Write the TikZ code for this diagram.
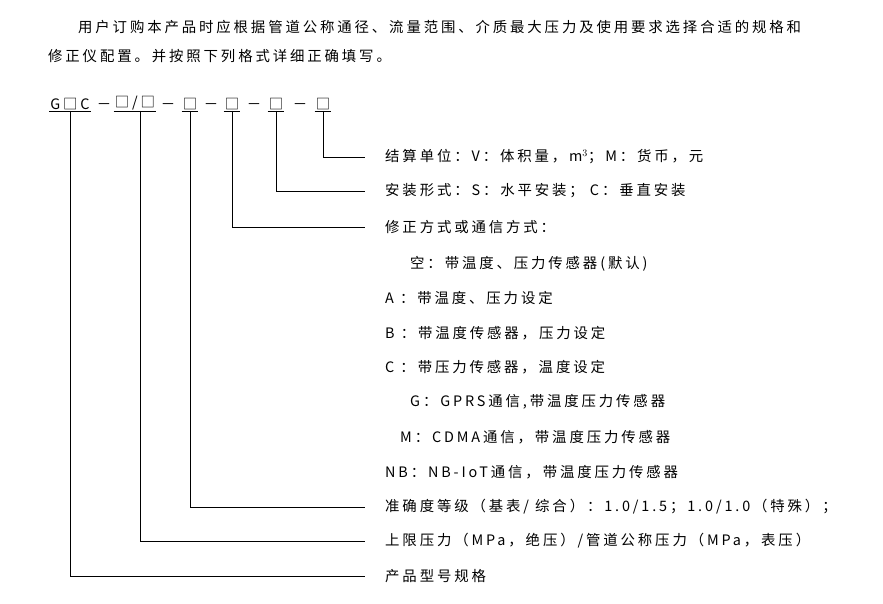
\documentclass[tikz,border=0pt]{standalone}
\usepackage{fontspec}
\setmainfont{Liberation Serif}
\newfontfamily\cjk[LetterSpace=20]{Noto Sans CJK SC}
\usetikzlibrary{positioning}
\tikzset{lbl/.style={anchor=west,inner sep=0pt,font=\cjk\fontsize{14.4}{16}\selectfont},
  code/.style={anchor=south,inner sep=1pt,font=\cjk\fontsize{14.4}{16}\selectfont},
  lead/.style={line width=0.7pt}}
\begin{document}
\begin{tikzpicture}[x=1pt,y=-1pt]
    \useasboundingbox (0,0) rectangle (883,604);
    \node[lbl] (p1) at (78,27) {用户订购本产品时应根据管道公称通径、流量范围、介质最大压力及使用要求选择合适的规格和};
    \node[lbl] (p2) at (48,56) {修正仪配置。并按照下列格式详细正确填写。};

    % code line
    \node[code] (c1) at (70,111) {G□C};
    \node[code] (d1) at (104,111) {－};
    \node[code] (c2) at (135,111) {□/□};
    \node[code] (d2) at (168,111) {－};
    \node[code] (c3) at (190,111) {□};
    \node[code] (d3) at (211,111) {－};
    \node[code] (c4) at (232,111) {□};
    \node[code] (d4) at (254,111) {－};
    \node[code] (c5) at (276,111) {□};
    \node[code] (d5) at (300,111) {－};
    \node[code] (c6) at (323,111) {□};
    \foreach \c in {c1,c2,c3,c4,c5,c6}
        \draw[lead] (\c.south west) -- (\c.south east);

    % texts
    \node[lbl] (t1) at (385,157) {结算单位：V：体积量，m$^3$；M：货币，元};
    \node[lbl] (t2) at (385,191) {安装形式：S：水平安装；\ C：垂直安装};
    \node[lbl] (t3) at (385,227) {修正方式或通信方式：};
    \node[lbl] (t4) at (410,264) {空：带温度、压力传感器(默认)};
    \node[lbl] (t5) at (385,298) {A ：带温度、压力设定};
    \node[lbl] (t6) at (385,333) {B ：带温度传感器，压力设定};
    \node[lbl] (t7) at (385,367) {C ：带压力传感器，温度设定};
    \node[lbl] (t8) at (410,402) {G：GPRS通信,带温度压力传感器};
    \node[lbl] (t9) at (400,437) {M：CDMA通信，带温度压力传感器};
    \node[lbl] (t10) at (385,472) {NB：NB-IoT通信，带温度压力传感器};
    \node[lbl] (t11) at (385,507) {准确度等级（基表/ 综合）：1.0/1.5；1.0/1.0（特殊）；};
    \node[lbl] (t12) at (385,541) {上限压力（MPa，绝压）/管道公称压力（MPa，表压）};
    \node[lbl] (t13) at (385,576) {产品型号规格};

    % leaders
    \coordinate (e1) at (365,157);
    \coordinate (e2) at (365,191);
    \coordinate (e3) at (365,227);
    \coordinate (e4) at (365,507);
    \coordinate (e5) at (365,541);
    \coordinate (e6) at (365,576);
    \draw[lead] (c6.south) |- (e1);
    \draw[lead] (c5.south) |- (e2);
    \draw[lead] (c4.south) |- (e3);
    \draw[lead] (c3.south) |- (e4);
    \draw[lead] ([xshift=5pt]c2.south) |- (e5);
    \draw[lead] (c1.south) |- (e6);
\end{tikzpicture}
\end{document}
